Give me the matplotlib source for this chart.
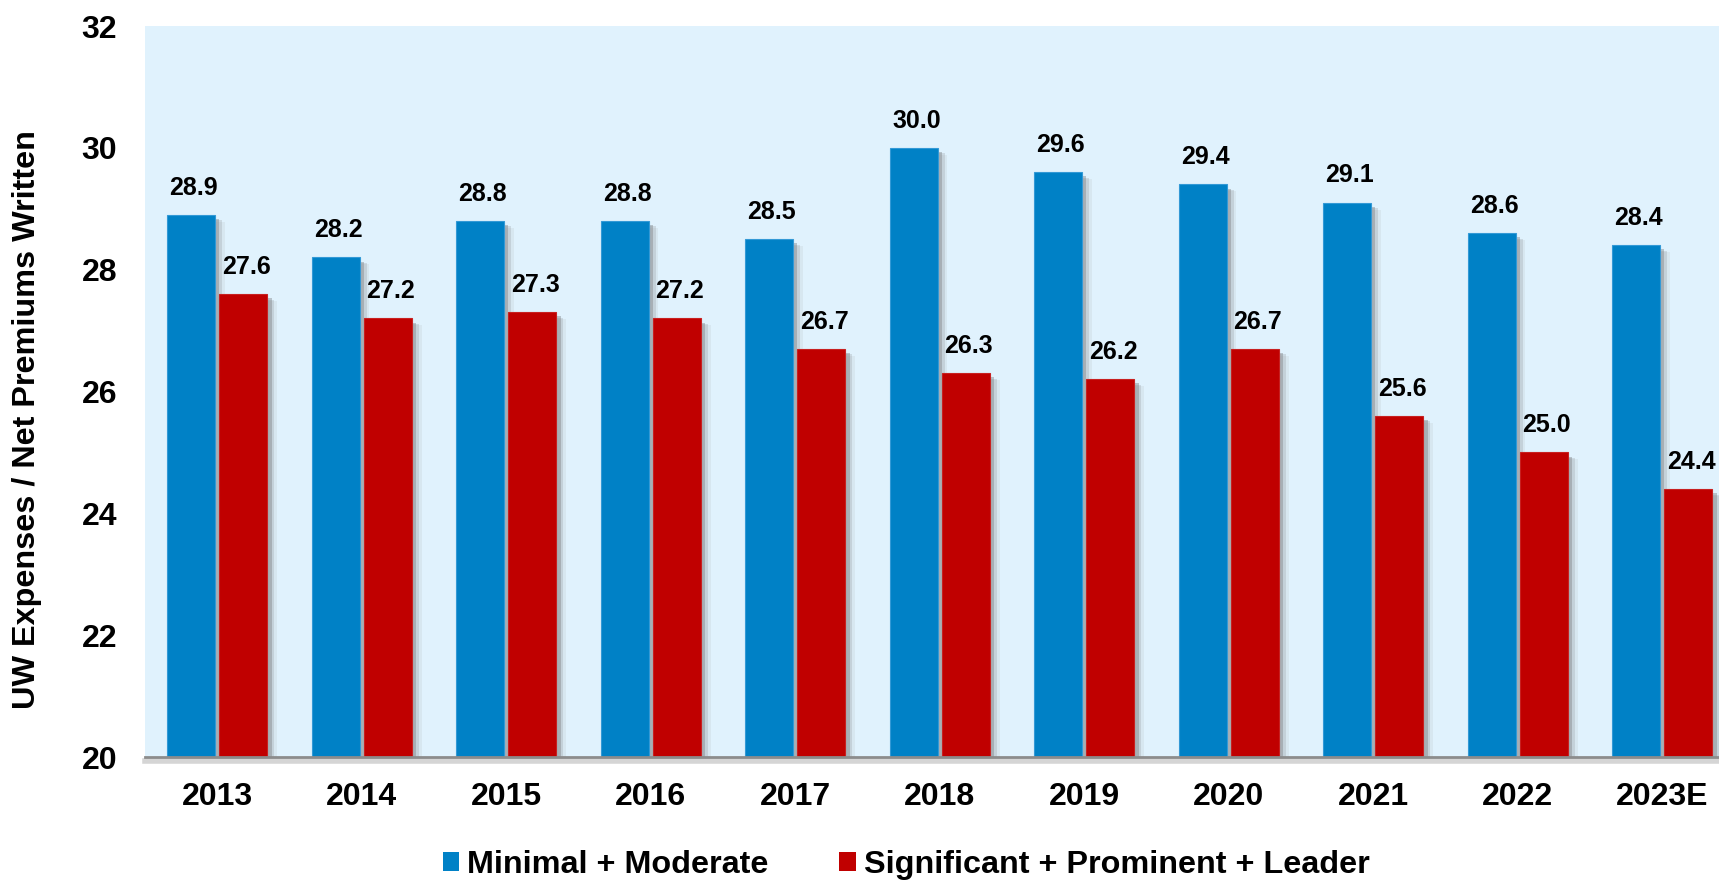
import matplotlib
matplotlib.use("Agg")
import matplotlib.pyplot as plt
import matplotlib.patheffects as pe
from matplotlib.patches import Patch
import numpy as np

years = ["2013", "2014", "2015", "2016", "2017", "2018", "2019", "2020", "2021", "2022", "2023E"]
minimal_moderate = [28.9, 28.2, 28.8, 28.8, 28.5, 30.0, 29.6, 29.4, 29.1, 28.6, 28.4]
significant_prominent_leader = [27.6, 27.2, 27.3, 27.2, 26.7, 26.3, 26.2, 26.7, 25.6, 25.0, 24.4]
series_names = ["Minimal + Moderate", "Significant + Prominent + Leader"]
y_ticks = [20, 22, 24, 26, 28, 30, 32]

BLUE = "#0081C6"
RED = "#C00000"
BG = "#E0F2FD"

plt.rcParams['font.family'] = ['Liberation Sans', 'DejaVu Sans']
plt.rcParams['font.weight'] = 'bold'

W, H = 1719, 880
fig = plt.figure(figsize=(W / 100, H / 100), dpi=100)
left_px, right_px, top_px, bot_px = 145, 1734.5, 26, 757
ax = fig.add_axes([left_px / W, 1 - bot_px / H, (right_px - left_px) / W, (bot_px - top_px) / H])
ax.set_facecolor(BG)

x = np.arange(len(years))
bw = 0.333
off = 0.181
base = 20

shadow = [pe.SimplePatchShadow(offset=(3, -3), shadow_rgbFace='#555555', alpha=0.3),
          pe.SimplePatchShadow(offset=(5, -4), shadow_rgbFace='#777777', alpha=0.2),
          pe.SimplePatchShadow(offset=(7, -5), shadow_rgbFace='#999999', alpha=0.12),
          pe.Normal()]

b1 = ax.bar(x - off, np.array(minimal_moderate) - base, bw, bottom=base, color=BLUE,
            edgecolor='#3399D6', linewidth=0.8, zorder=3)
b2 = ax.bar(x + off, np.array(significant_prominent_leader) - base, bw, bottom=base, color=RED,
            edgecolor='#C82020', linewidth=0.8, zorder=3)
for bars in (b1, b2):
    for p in bars:
        p.set_path_effects(shadow)

for xi, v in zip(x - off, minimal_moderate):
    ax.annotate(f"{v:.1f}", (xi, v), xytext=(2, 11), textcoords='offset points',
                ha='center', va='bottom', fontsize=18, fontweight='bold', zorder=5)
for xi, v in zip(x + off, significant_prominent_leader):
    ax.annotate(f"{v:.1f}", (xi, v), xytext=(2, 11), textcoords='offset points',
                ha='center', va='bottom', fontsize=18, fontweight='bold', zorder=5)

ax.set_xlim(-0.5, len(years) - 0.5)
ax.set_ylim(20, 32)
ax.set_yticks(y_ticks)
ax.set_yticklabels([str(t) for t in y_ticks], fontsize=23, fontweight='bold')
ax.set_xticks(x)
ax.set_xticklabels(years, fontsize=23, fontweight='bold')
ax.tick_params(axis='y', length=0, pad=20)
ax.tick_params(axis='x', length=0, pad=18)

for s in ['left', 'right', 'top']:
    ax.spines[s].set_visible(False)
ax.spines['bottom'].set_color('#8C8C8C')
ax.spines['bottom'].set_linewidth(2)
ax.spines['bottom'].set_zorder(4)
ax.spines['bottom'].set_path_effects([pe.SimpleLineShadow(offset=(0, -3), shadow_color='#888888', alpha=0.35, linewidth=4),
                                      pe.Normal()])

fig.text(27 / W, 1 - 420 / H, "UW Expenses / Net Premiums Written", rotation=90,
         ha='center', va='center', fontsize=23.3, fontweight='bold')

handles = [Patch(facecolor=BLUE, edgecolor='none'), Patch(facecolor=RED, edgecolor='none')]
leg = fig.legend(handles, series_names, loc='center', bbox_to_anchor=(906 / W, 1 - 865 / H),
                 ncol=2, frameon=False, fontsize=23.3, handlelength=0.5, handleheight=0.5,
                 handletextpad=0.25, columnspacing=2.2, borderpad=0, borderaxespad=0)
for t in leg.get_texts():
    t.set_fontweight('bold')

fig.savefig("out.png", dpi=100)
